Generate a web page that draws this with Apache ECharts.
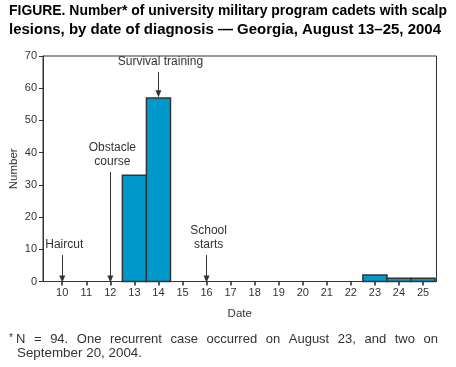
<!DOCTYPE html>
<html><head><meta charset="utf-8">
<script src="https://cdn.jsdelivr.net/npm/echarts@6/dist/echarts.min.js"></script>
<style>html,body{margin:0;padding:0;background:#fff}#c{width:456px;height:367px}</style>
</head><body><div id="c"></div>
<script>
const dates = [10,11,12,13,14,15,16,17,18,19,20,21,22,23,24,25];
const counts = [0,0,0,33,57,0,0,0,0,0,0,0,0,2,1,1];
const yTicks = [0,10,20,30,40,50,60,70];
// annotations: [label, date, arrowFromValue, arrowToValue]
const annotations = [
  ["Haircut", 10, 8.2, 0.8],
  ["Obstacle\ncourse", 12, 34, 0.8],
  ["Survival training", 14, 65, 58.3],
  ["School\nstarts", 16, 8.2, 0.8]
];
const titleText = ["FIGURE. Number* of university military program cadets with scalp",
                   "lesions, by date of diagnosis — Georgia, August 13–25, 2004"];
const footText = ["N = 94. One recurrent case occurred on August 23, and two on",
                  "September 20, 2004."];

const FONT = "Liberation Sans, Arial, Helvetica, sans-serif";
const chart = echarts.init(document.getElementById('c'), null, {renderer:'canvas'});
const barData = dates.map((d,i)=>[d, counts[i]]);

const option = {
  animation:false,
  grid:{left:43, right:19.5, top:56, bottom:85.5, containLabel:false, outerBoundsMode:'none',
    show:true, borderColor:'#333', borderWidth:1, backgroundColor:'transparent'},
  xAxis:{type:'value', min:9.2, max:25.56,
    name:'Date', nameLocation:'middle', nameGap:26, nameMoveOverlap:false,
    nameTextStyle:{fontFamily:FONT, fontSize:11.5, color:'#333'},
    splitLine:{show:false},
    axisLine:{lineStyle:{color:'#333'}},
    axisTick:{show:true, customValues:dates, length:4, lineStyle:{color:'#333', width:1.6}},
    axisLabel:{customValues:dates, fontFamily:FONT, fontSize:11, color:'#333', margin:6}
  },
  yAxis:{type:'value', min:0, max:70, interval:10,
    name:'Number', nameLocation:'middle', nameGap:23, nameRotate:90, nameMoveOverlap:false,
    nameTextStyle:{fontFamily:FONT, fontSize:11.5, color:'#333'},
    splitLine:{show:false},
    axisLine:{show:true, lineStyle:{color:'#333'}},
    axisTick:{show:true, length:4, lineStyle:{color:'#333'}},
    axisLabel:{fontFamily:FONT, fontSize:11, color:'#333', margin:6}
  },
  series:[{
    type:'custom',
    data:barData,
    renderItem:function(params, api){
      const x = api.value(0), y = api.value(1);
      if (y <= 0) return null;
      const p1 = api.coord([x-0.5, y]);
      const p2 = api.coord([x+0.5, 0]);
      return {type:'rect', shape:{x:p1[0], y:p1[1], width:p2[0]-p1[0], height:p2[1]-p1[1]},
        style:{fill:'#0099cc', stroke:'#333', lineWidth:1.5}};
    },
    encode:{x:0,y:1},
    z:2
  },{
    type:'line', data:[],
    markLine:{silent:true, symbol:['none','triangle'], symbolSize:[6,7],
      lineStyle:{color:'#333', width:1, type:'solid'}, label:{show:false},
      data: annotations.map(a=>[{coord:[a[1], a[2]]},{coord:[a[1], a[3]]}])
    }
  }]
};
chart.setOption(option);

const ctx = document.createElement('canvas').getContext('2d');
function measure(t, font){ ctx.font = font; return ctx.measureText(t).width; }

function layoutGraphics(){
  const g = [];
  const tf = 'bold 14px '+FONT;
  const w1 = measure(titleText[0], tf), w2 = measure(titleText[1], tf);
  g.push({type:'text', x:9, y:4, scaleX:438/w1, style:{text:titleText[0], font:tf, fill:'#000'}});
  g.push({type:'text', x:9, y:23, scaleX:432/w2, style:{text:titleText[1], font:tf, fill:'#000'}});
  // footnote: justified first line
  const ff = '13px '+FONT;
  g.push({type:'text', x:9, y:333, style:{text:'*', font:'10px '+FONT, fill:'#333'}});
  const words = footText[0].split(' ');
  const startX = 16, endX = 438;
  const total = words.reduce((s,w)=>s+measure(w,ff),0);
  const gap = (endX-startX-total)/(words.length-1);
  let cx = startX;
  words.forEach(w=>{
    g.push({type:'text', x:cx, y:333, style:{text:w, font:ff, fill:'#333'}});
    cx += measure(w,ff)+gap;
  });
  const w4 = measure(footText[1], ff);
  g.push({type:'text', x:17, y:347, scaleX:125/w4, style:{text:footText[1], font:ff, fill:'#333'}});
  annotations.forEach(a=>{
    const p = chart.convertToPixel({xAxisIndex:0, yAxisIndex:0}, [a[1], a[2]]);
    g.push({type:'text', x:p[0]+2, y:p[1]-3, style:{text:a[0], font:'12px '+FONT, fill:'#333',
      align:'center', verticalAlign:'bottom', lineHeight:14}});
  });
  chart.setOption({graphic:g});
}
layoutGraphics();
</script></body></html>
